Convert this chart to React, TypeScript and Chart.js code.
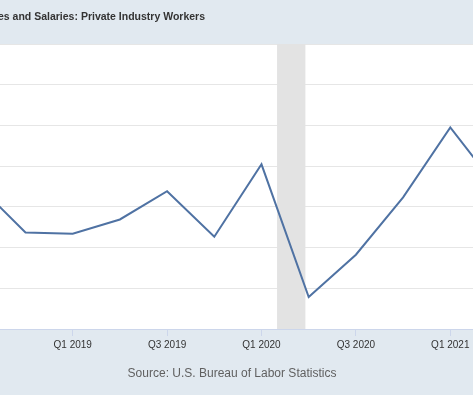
import React, { useEffect, useRef } from "react";
import { Chart, registerables } from "chart.js";

Chart.register(...registerables);

// Quarterly series (Q3 2018 .. Q2 2021)
const quarters = [
  "Q3 2018", "Q4 2018", "Q1 2019", "Q2 2019", "Q3 2019", "Q4 2019",
  "Q1 2020", "Q2 2020", "Q3 2020", "Q4 2020", "Q1 2021", "Q2 2021",
];
const values = [0.705, 0.474, 0.468, 0.538, 0.677, 0.453, 0.809, 0.157, 0.365, 0.647, 0.99, 0.692];
const firstQuarterIndex = -2; // Q3 2018 relative to Q1 2019

const tickLabels = ["Q1 2019", "Q3 2019", "Q1 2020", "Q3 2020", "Q1 2021"];
const tickIndices = [0, 2, 4, 6, 8];

const visibleMin = -1.54;
const visibleMax = 8.481;
const recessionStart = 4.33;
const recessionEnd = 4.93;

const yMin = 0;
const yMax = 1.4;
const yStep = 0.2;

const titleText = "es and Salaries: Private Industry Workers";
const sourceText = "Source: U.S. Bureau of Labor Statistics";

const BG = "#e1e9f0";

export default function App() {
  const ref = useRef<HTMLCanvasElement | null>(null);

  useEffect(() => {
    if (!ref.current) return;
    const points = values.map((v, i) => ({ x: i + firstQuarterIndex, y: v }));

    const decor = {
      id: "decor",
      beforeDraw(chart: any) {
        const { ctx, chartArea: a, width, height } = chart;
        ctx.save();
        ctx.fillStyle = BG;
        ctx.fillRect(0, 0, width, height);
        ctx.fillStyle = "#ffffff";
        ctx.fillRect(a.left, a.top, a.right - a.left, a.bottom - a.top);
        ctx.restore();
      },
      beforeDatasetsDraw(chart: any) {
        const { ctx, chartArea: a } = chart;
        const xs = chart.scales.x;
        const x0 = xs.getPixelForValue(recessionStart);
        const x1 = xs.getPixelForValue(recessionEnd);
        ctx.save();
        ctx.fillStyle = "#e3e3e3";
        ctx.fillRect(x0, a.top, x1 - x0, a.bottom - a.top);
        ctx.restore();
      },
      afterDraw(chart: any) {
        const { ctx } = chart;
        ctx.save();
        ctx.fillStyle = "#333333";
        ctx.textBaseline = "middle";
        ctx.textAlign = "left";
        ctx.font = 'bold 10.5px "Liberation Sans", Arial, Helvetica, sans-serif';
        ctx.fillText(titleText, -2, 17.5);
        ctx.fillStyle = "#606060";
        ctx.textAlign = "center";
        ctx.font = '12px "Liberation Sans", Arial, Helvetica, sans-serif';
        ctx.fillText(sourceText, 232, 374);
        ctx.restore();
      },
    };

    const chart = new Chart(ref.current, {
      type: "line",
      data: {
        datasets: [
          {
            label: "Wages and Salaries",
            data: points,
            borderColor: "#4f72a3",
            borderWidth: 2,
            pointRadius: 0,
            tension: 0,
            fill: false,
          },
        ],
      },
      options: {
        responsive: false,
        animation: false,
        layout: { padding: { top: 44, left: 0, right: 0, bottom: 0 } },
        plugins: {
          legend: { display: false },
          tooltip: { enabled: false },
          title: { display: false },
        },
        scales: {
          x: {
            type: "linear",
            min: visibleMin,
            max: visibleMax,
            afterBuildTicks(scale: any) {
              scale.ticks = tickIndices.map((v) => ({ value: v }));
            },
            afterFit(scale: any) {
              scale.height = 66;
            },
            ticks: {
              autoSkip: false,
              maxRotation: 0,
              padding: 3,
              color: "#333333",
              font: { family: '"Liberation Sans", Arial, sans-serif', size: 10 },
              callback: (value: any) => {
                const k = tickIndices.indexOf(Number(value));
                return k >= 0 ? tickLabels[k] : "";
              },
            },
            grid: {
              drawOnChartArea: false,
              drawTicks: true,
              tickLength: 7,
              color: "#ccd6eb",
            },
            border: { display: true, color: "#ccd6eb", width: 1 },
          },
          y: {
            min: yMin,
            max: yMax,
            afterFit(scale: any) {
              scale.width = 0;
            },
            ticks: { display: false, stepSize: yStep },
            grid: { color: "#e6e6e6", drawTicks: false },
            border: { display: false },
          },
        },
      },
      plugins: [decor],
    });
    return () => chart.destroy();
  }, []);

  return (
    <div style={{ position: "fixed", left: 0, top: 0, width: 473, height: 395 }}>
      <canvas ref={ref} width={473} height={395} />
    </div>
  );
}
